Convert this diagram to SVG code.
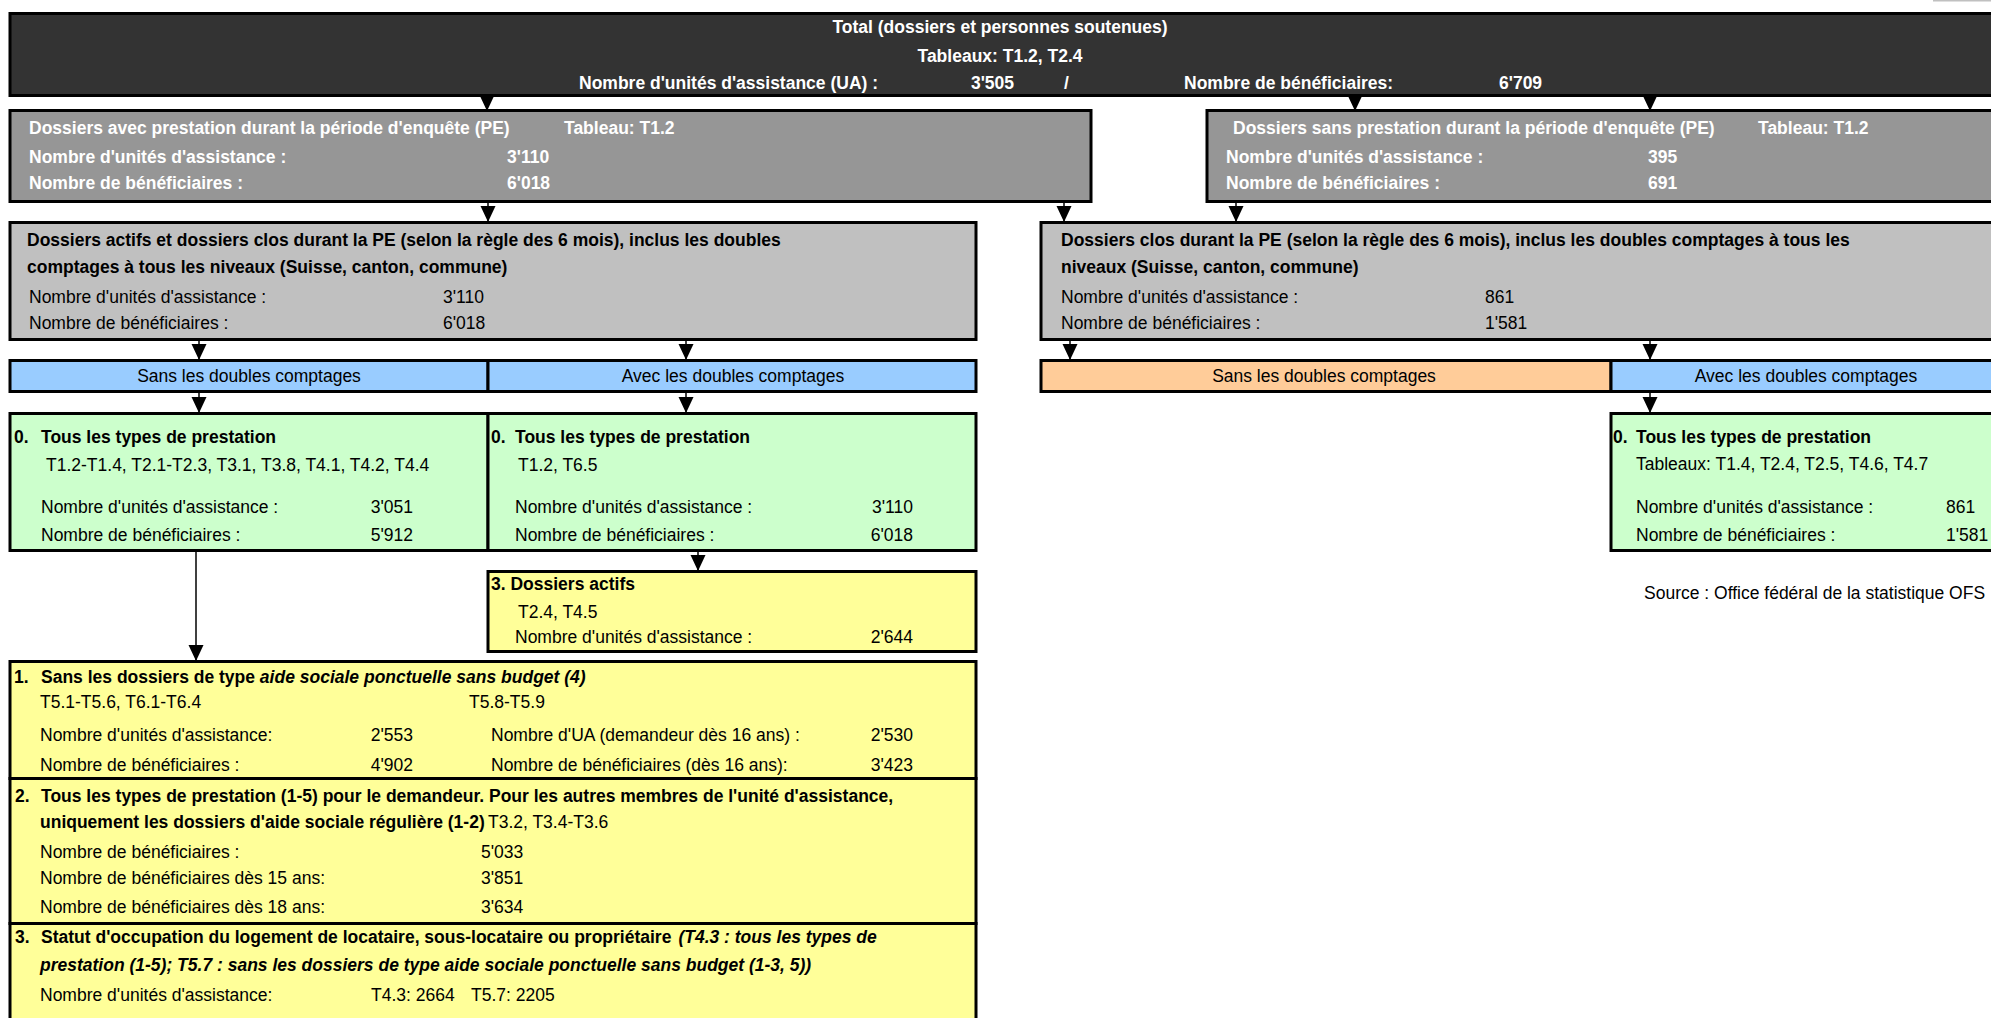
<svg xmlns="http://www.w3.org/2000/svg" width="1991" height="1018" viewBox="0 0 1991 1018">
<defs>
<style>
text{font-family:"Liberation Sans",Arial,sans-serif;font-size:17.5px;fill:#000}
.b{font-weight:bold}
.w{fill:#fff}
.i{font-style:italic}
.c{text-anchor:middle}
.e{text-anchor:end}
.bx{stroke:#000;stroke-width:3}
.dk{fill:#333333}
.g1{fill:#969696}
.g2{fill:#c0c0c0}
.bl{fill:#99ccff}
.or{fill:#ffcc99}
.gr{fill:#ccffcc}
.ye{fill:#ffff99}
.cn{stroke:#000;stroke-width:1.5;fill:none;marker-end:url(#ah)}
</style>
<marker id="ah" markerUnits="userSpaceOnUse" markerWidth="16" markerHeight="16" viewBox="0 0 16 16" refX="16" refY="8" orient="auto">
<path d="M0,0.5 L16,8 L0,15.5 Z" fill="#000"/>
</marker>
</defs>
<rect width="1991" height="1018" fill="#fff"/>
<rect x="1933" y="0" width="58" height="1.5" fill="#c0c0c0"/>

<g id="total">
<rect class="bx dk" x="10" y="13.5" width="1990" height="82"/>
<text class="b w c" x="1000" y="33">Total (dossiers et personnes soutenues)</text>
<text class="b w c" x="1000" y="62">Tableaux: T1.2, T2.4</text>
<text class="b w" x="579" y="89">Nombre d'unités d'assistance (UA) :</text>
<text class="b w e" x="1014" y="89">3'505</text>
<text class="b w" x="1064" y="89">/</text>
<text class="b w" x="1184" y="89">Nombre de bénéficiaires:</text>
<text class="b w" x="1499" y="89">6'709</text>
</g>

<g id="avec-prestation">
<rect class="bx g1" x="10" y="110.5" width="1081" height="91"/>
<text class="b w" x="29" y="134">Dossiers avec prestation durant la période d'enquête (PE)</text>
<text class="b w" x="564" y="134">Tableau: T1.2</text>
<text class="b w" x="29" y="163">Nombre d'unités d'assistance :</text>
<text class="b w" x="507" y="163">3'110</text>
<text class="b w" x="29" y="189">Nombre de bénéficiaires :</text>
<text class="b w" x="507" y="189">6'018</text>
</g>

<g id="sans-prestation">
<rect class="bx g1" x="1207" y="110.5" width="800" height="91"/>
<text class="b w" x="1233" y="134">Dossiers sans prestation durant la période d'enquête (PE)</text>
<text class="b w" x="1758" y="134">Tableau: T1.2</text>
<text class="b w" x="1226" y="163">Nombre d'unités d'assistance :</text>
<text class="b w" x="1648" y="163">395</text>
<text class="b w" x="1226" y="189">Nombre de bénéficiaires :</text>
<text class="b w" x="1648" y="189">691</text>
</g>

<g id="actifs-clos">
<rect class="bx g2" x="10" y="222.5" width="966" height="117"/>
<text class="b" x="27" y="246">Dossiers actifs et dossiers clos durant la PE (selon la règle des 6 mois), inclus les doubles</text>
<text class="b" x="27" y="273">comptages à tous les niveaux (Suisse, canton, commune)</text>
<text x="29" y="303">Nombre d'unités d'assistance :</text>
<text x="443" y="303">3'110</text>
<text x="29" y="329">Nombre de bénéficiaires :</text>
<text x="443" y="329">6'018</text>
</g>

<g id="clos">
<rect class="bx g2" x="1041" y="222.5" width="966" height="117"/>
<text class="b" x="1061" y="246">Dossiers clos durant la PE (selon la règle des 6 mois), inclus les doubles comptages à tous les</text>
<text class="b" x="1061" y="273">niveaux (Suisse, canton, commune)</text>
<text x="1061" y="303">Nombre d'unités d'assistance :</text>
<text x="1485" y="303">861</text>
<text x="1061" y="329">Nombre de bénéficiaires :</text>
<text x="1485" y="329">1'581</text>
</g>

<g id="bar-left">
<rect class="bx bl" x="10" y="360.5" width="478" height="31"/>
<rect class="bx bl" x="488" y="360.5" width="488" height="31"/>
<text class="c" x="249" y="382">Sans les doubles comptages</text>
<text class="c" x="733" y="382">Avec les doubles comptages</text>
</g>

<g id="bar-right">
<rect class="bx or" x="1041" y="360.5" width="570" height="31"/>
<rect class="bx bl" x="1611" y="360.5" width="396" height="31"/>
<text class="c" x="1324" y="382">Sans les doubles comptages</text>
<text class="c" x="1806" y="382">Avec les doubles comptages</text>
</g>

<g id="tous-sans">
<rect class="bx gr" x="10" y="413.5" width="478" height="137"/>
<text class="b" x="14" y="443">0.</text>
<text class="b" x="41" y="443">Tous les types de prestation</text>
<text x="46" y="471">T1.2-T1.4, T2.1-T2.3, T3.1, T3.8, T4.1, T4.2, T4.4</text>
<text x="41" y="513">Nombre d'unités d'assistance :</text>
<text class="e" x="413" y="513">3'051</text>
<text x="41" y="541">Nombre de bénéficiaires :</text>
<text class="e" x="413" y="541">5'912</text>
</g>

<g id="tous-avec">
<rect class="bx gr" x="488" y="413.5" width="488" height="137"/>
<text class="b" x="491" y="443">0.</text>
<text class="b" x="515" y="443">Tous les types de prestation</text>
<text x="518" y="471">T1.2, T6.5</text>
<text x="515" y="513">Nombre d'unités d'assistance :</text>
<text class="e" x="913" y="513">3'110</text>
<text x="515" y="541">Nombre de bénéficiaires :</text>
<text class="e" x="913" y="541">6'018</text>
</g>

<g id="tous-clos">
<rect class="bx gr" x="1611" y="413.5" width="396" height="137"/>
<text class="b" x="1613" y="443">0.</text>
<text class="b" x="1636" y="443">Tous les types de prestation</text>
<text x="1636" y="470">Tableaux: T1.4, T2.4, T2.5, T4.6, T4.7</text>
<text x="1636" y="513">Nombre d'unités d'assistance :</text>
<text x="1946" y="513">861</text>
<text x="1636" y="541">Nombre de bénéficiaires :</text>
<text x="1946" y="541">1'581</text>
</g>

<g id="source">
<text x="1644" y="599">Source : Office fédéral de la statistique OFS</text>
</g>

<g id="dossiers-actifs">
<rect class="bx ye" x="488" y="571.5" width="488" height="80"/>
<text class="b" x="491" y="590">3. Dossiers actifs</text>
<text x="518" y="618">T2.4, T4.5</text>
<text x="515" y="643">Nombre d'unités d'assistance :</text>
<text class="e" x="913" y="643">2'644</text>
</g>

<g id="sans-ponctuelle">
<rect class="bx ye" x="10" y="661.5" width="966" height="117"/>
<text class="b" x="14" y="683">1.</text>
<text class="b" x="41" y="683">Sans les dossiers de type <tspan class="i">aide sociale ponctuelle sans budget (4)</tspan></text>
<text x="40" y="708">T5.1-T5.6, T6.1-T6.4</text>
<text x="469" y="708">T5.8-T5.9</text>
<text x="40" y="741">Nombre d'unités d'assistance:</text>
<text class="e" x="413" y="741">2'553</text>
<text x="491" y="741">Nombre d'UA (demandeur dès 16 ans) :</text>
<text class="e" x="913" y="741">2'530</text>
<text x="40" y="771">Nombre de bénéficiaires :</text>
<text class="e" x="413" y="771">4'902</text>
<text x="491" y="771">Nombre de bénéficiaires (dès 16 ans):</text>
<text class="e" x="913" y="771">3'423</text>
</g>

<g id="demandeur">
<rect class="bx ye" x="10" y="778.5" width="966" height="145"/>
<text class="b" x="15" y="802">2.</text>
<text class="b" x="41" y="802">Tous les types de prestation (1-5) pour le demandeur. Pour les autres membres de l'unité d'assistance,</text>
<text class="b" x="40" y="828">uniquement les dossiers d'aide sociale régulière (1-2)</text>
<text x="488" y="828">T3.2, T3.4-T3.6</text>
<text x="40" y="858">Nombre de bénéficiaires :</text>
<text x="481" y="858">5'033</text>
<text x="40" y="884">Nombre de bénéficiaires dès 15 ans:</text>
<text x="481" y="884">3'851</text>
<text x="40" y="913">Nombre de bénéficiaires dès 18 ans:</text>
<text x="481" y="913">3'634</text>
</g>

<g id="logement">
<rect class="bx ye" x="10" y="923.5" width="966" height="110"/>
<text class="b" x="15" y="943">3.</text>
<text class="b" x="41" y="943">Statut d'occupation du logement de locataire, sous-locataire ou propriétaire<tspan class="i" dx="7">(T4.3 : tous les types de</tspan></text>
<text class="b i" x="40" y="971">prestation (1-5); T5.7 : sans les dossiers de type aide sociale ponctuelle sans budget (1-3, 5))</text>
<text x="40" y="1001">Nombre d'unités d'assistance:</text>
<text x="371" y="1001">T4.3: 2664</text>
<text x="471" y="1001">T5.7: 2205</text>
</g>

<g id="connectors">
<path class="cn" d="M487,95 V111"/>
<path class="cn" d="M1355,95 V111"/>
<path class="cn" d="M1650,95 V111"/>
<path class="cn" d="M488,202 V222"/>
<path class="cn" d="M1064,202 V222"/>
<path class="cn" d="M1236,202 V222"/>
<path class="cn" d="M199,340 V360"/>
<path class="cn" d="M686,340 V360"/>
<path class="cn" d="M1070,340 V360"/>
<path class="cn" d="M1650,340 V360"/>
<path class="cn" d="M199,392 V413"/>
<path class="cn" d="M686,392 V413"/>
<path class="cn" d="M1650,392 V413"/>
<path class="cn" d="M698,551 V571"/>
<path class="cn" d="M196,551 V661"/>
</g>
</svg>
